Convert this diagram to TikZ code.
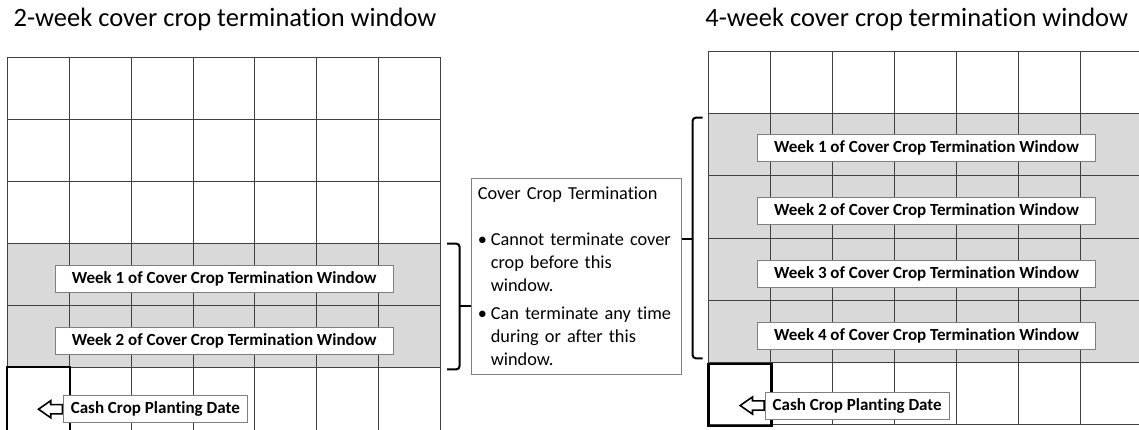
\documentclass[tikz,border=0pt]{standalone}
\usepackage{fontspec}
\setmainfont{Carlito}[Ligatures=NoCommon]
\usetikzlibrary{shapes.arrows}

\definecolor{gridgray}{HTML}{404040}
\definecolor{shadegray}{HTML}{D9D9D9}
\definecolor{boxgray}{HTML}{7F7F7F}

\newcommand{\bitem}{\makebox[13pt][l]{\textbullet}}

\begin{document}
\begin{tikzpicture}[x=1pt,y=-1pt,
  gridln/.style={draw=gridgray, line width=1pt},
  weeklabel/.style={fill=white, draw=boxgray, line width=.8pt, minimum width=338pt, minimum height=27pt, inner sep=0pt, font=\fontsize{17}{19}\selectfont\bfseries},
  cashlabel/.style={weeklabel, minimum width=184pt},
  casharrow/.style={single arrow, shape border rotate=180, draw=black, fill=white, line width=1.6pt, inner xsep=0pt, inner ysep=3.8pt, minimum height=24pt, single arrow head extend=4pt, single arrow tip angle=70, anchor=tail},
  plantbox/.style={draw=black, line width=2.5pt},
  brace/.style={draw=black, line width=2pt, rounded corners=3pt},
  title/.style={anchor=base, font=\fontsize{26.5}{30}\selectfont},
  termbox/.style={draw=boxgray, line width=.8pt, fill=white, text width=197pt, minimum width=210.7pt, minimum height=196pt, inner xsep=6.7pt, align=left, font=\fontsize{18.3}{23}\selectfont}]

\useasboundingbox (0,0) rectangle (1139,429);
\clip (0,0) rectangle (1139,429);

% titles
\node[title] (ttlL) at (225,26) {2-week cover crop termination window};
\node[title] (ttlR) at (916.7,26) {4-week cover crop termination window};

% 2-week grid
\fill[shadegray] (7.3,243.7) rectangle (440.7,368);
\foreach \i in {0,...,7}
  \draw[gridln] (7.3+61.9*\i,57.7) -- (7.3+61.9*\i,440);
\foreach \j in {0,...,5}
  \draw[gridln] (7.3,57.7+62.05*\j) -- (440.7,57.7+62.05*\j);
\draw[plantbox] (7,367) rectangle (70,440);

% 4-week grid
\fill[shadegray] (708.3,114) rectangle (1145,362.7);
\foreach \i in {0,...,7}
  \draw[gridln] (708.3+62.05*\i,51.7) -- (708.3+62.05*\i,424.3);
\foreach \j in {0,...,6}
  \draw[gridln] (708.3,51.7+62.1*\j) -- (1145,51.7+62.1*\j);
\draw[plantbox] (708.5,364) rectangle (771.5,426);

% week labels
\node[weeklabel] (wkL1) at (224.2,279) {Week 1 of Cover Crop Termination Window};
\node[weeklabel] (wkL2) at (224.2,341.3) {Week 2 of Cover Crop Termination Window};
\foreach \w/\yy in {1/148,2/210.5,3/274,4/336.3}
  \node[weeklabel] (wkR\w) at (926.5,\yy) {Week \w\ of Cover Crop Termination Window};

% planting date
\node[casharrow] (arrL) at (63.3,409.2) {};
\node[cashlabel] (cashL) at (155.3,409.2) {Cash Crop Planting Date};
\node[casharrow] (arrR) at (765,405.5) {};
\node[cashlabel] (cashR) at (857.2,405.5) {Cash Crop Planting Date};

% explanation
\node[termbox] (termBox) at (576.3,276.3) {Cover Crop Termination\\[23pt]
\bitem Cannot terminate cover\\
\hspace*{13pt}crop before this\\
\hspace*{13pt}window.\\[4.7pt]
\bitem Can terminate any time\\
\hspace*{13pt}during or after this\\
\hspace*{13pt}window.};

% brackets
\draw[brace] (447,243.7) -| (459.5,369.3) -- (447,369.3);
\coordinate (lmid) at (459.5,305.7);
\draw[brace] (lmid) -- (lmid -| termBox.west);
\draw[brace] (702.7,117.7) -| (692.7,358.3) -- (702.7,358.3);
\coordinate (rmid) at (692.7,239);
\draw[brace] (rmid) -- (rmid -| termBox.east);
\end{tikzpicture}
\end{document}
